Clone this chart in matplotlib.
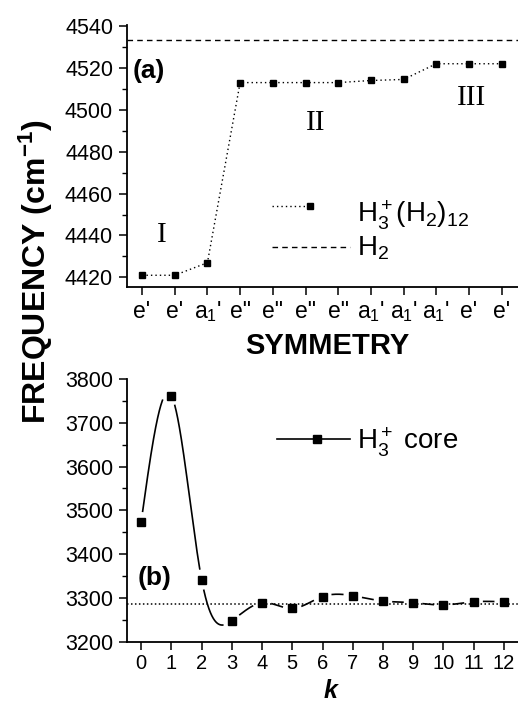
import matplotlib
matplotlib.use('Agg')
import matplotlib.pyplot as plt
from matplotlib.ticker import MultipleLocator
import numpy as np

plt.rcParams['font.family'] = ['Liberation Sans', 'DejaVu Sans']
plt.rcParams['mathtext.fontset'] = 'custom'
plt.rcParams['mathtext.rm'] = 'Liberation Sans'
plt.rcParams['mathtext.it'] = 'Liberation Sans:italic'
plt.rcParams['mathtext.bf'] = 'Liberation Sans:bold'

# ---- data, panel (a) ----
mode_index = list(range(1, 13))
symmetry = ["e'", "e'", "a$_1$'", 'e"', 'e"', 'e"', 'e"',
            "a$_1$'", "a$_1$'", "a$_1$'", "e'", "e'"]
cluster_freq = [4421, 4421, 4427, 4513, 4513, 4513, 4513,
                4514, 4514.5, 4522, 4522, 4522]
h2_freq = 4533.3

# ---- data, panel (b) ----
k_values = list(range(0, 13))
core_freq = [3474, 3762, 3342, 3248, 3289, 3276, 3303,
             3305, 3293, 3289, 3284, 3291, 3291]
core_ref = 3285


def natural_spline(x, y, xs):
  # plain natural cubic spline, numpy only
  x = np.asarray(x, float)
  y = np.asarray(y, float)
  n = len(x)
  h = np.diff(x)
  A = np.zeros((n, n))
  r = np.zeros(n)
  A[0, 0] = 1
  A[-1, -1] = 1
  for i in range(1, n - 1):
    A[i, i - 1] = h[i - 1]
    A[i, i] = 2 * (h[i - 1] + h[i])
    A[i, i + 1] = h[i]
    r[i] = 3 * ((y[i + 1] - y[i]) / h[i] - (y[i] - y[i - 1]) / h[i - 1])
  c = np.linalg.solve(A, r)
  seg = np.clip(np.searchsorted(x, xs) - 1, 0, n - 2)
  dx = xs - x[seg]
  b = (y[seg + 1] - y[seg]) / h[seg] - h[seg] * (2 * c[seg] + c[seg + 1]) / 3
  d = (c[seg + 1] - c[seg]) / (3 * h[seg])
  return y[seg] + b * dx + c[seg] * dx ** 2 + d * dx ** 3


W, H = 518, 704
fig = plt.figure(figsize=(W / 100, H / 100), dpi=100)
ax1 = fig.add_axes([127 / W, 1 - 287 / H, 391 / W, 262 / H])
ax2 = fig.add_axes([127 / W, 1 - 641.7 / H, 391 / W, 262.7 / H])

for ax in (ax1, ax2):
  ax.spines['top'].set_visible(False)
  ax.spines['right'].set_visible(False)
  ax.spines['left'].set_linewidth(1.3)
  ax.spines['bottom'].set_linewidth(1.3)
  ax.tick_params(which='major', direction='out', length=6, width=1.1)
  ax.tick_params(which='minor', direction='out', length=3.5, width=1.0)
  ax.tick_params(axis='y', labelsize=15.5, pad=4)

# ---------------- panel (a) ----------------
ax1.set_xlim(0.54, 12.5)
ax1.set_ylim(4415.4, 4540.5)
ax1.yaxis.set_major_locator(MultipleLocator(20))
ax1.yaxis.set_minor_locator(MultipleLocator(10))
ax1.set_xticks(mode_index)
ax1.set_xticklabels(symmetry)
ax1.tick_params(axis='x', labelsize=16.5, pad=3)

ax1.plot(mode_index, cluster_freq, color='black', linestyle=(0, (1, 2.2)),
         linewidth=1.0, marker='s', markersize=5, zorder=3)
ax1.axhline(h2_freq, color='black', linestyle=(0, (4, 3)), linewidth=1.0)

ax1.text(0.015, 0.824, '(a)', transform=ax1.transAxes, fontsize=19,
         fontweight='bold', va='center', ha='left')
for lab, xa, ya in [('I', 0.09, 0.172), ('II', 0.483, 0.599), ('III', 0.880, 0.695)]:
  ax1.text(xa, ya, lab, transform=ax1.transAxes, fontsize=21,
           family='Liberation Serif', ha='center', va='baseline')

# legend, drawn by hand (Origin style)
ax1.plot([0.371, 0.46], [0.309, 0.309], transform=ax1.transAxes, color='black',
         linestyle=(0, (1, 2.2)), linewidth=1.0)
ax1.plot([0.468], [0.309], transform=ax1.transAxes, color='black',
         marker='s', markersize=5, linestyle='none')
ax1.text(0.588, 0.248, r'H$_3^+$(H$_2$)$_{12}$', transform=ax1.transAxes,
         fontsize=20, va='baseline', ha='left')
ax1.plot([0.371, 0.57], [0.153, 0.153], transform=ax1.transAxes, color='black',
         linestyle=(0, (4, 3)), linewidth=1.0)
ax1.text(0.588, 0.122, r'H$_2$', transform=ax1.transAxes,
         fontsize=20, va='baseline', ha='left')

# ---------------- panel (b) ----------------
ax2.set_xlim(-0.47, 12.47)
ax2.set_ylim(3200, 3800)
ax2.yaxis.set_major_locator(MultipleLocator(100))
ax2.yaxis.set_minor_locator(MultipleLocator(50))
ax2.set_xticks(k_values)
ax2.tick_params(axis='x', labelsize=14.5, pad=3)

ax2.axhline(core_ref, color='black', linestyle=(0, (1, 1.6)), linewidth=1.1)

# smooth spline through the core frequencies, with small gaps at the symbols
xs = np.linspace(k_values[0], k_values[-1], 1500)
ys = natural_spline(k_values, core_freq, xs)
pix = ax2.transData.transform(np.column_stack([xs, ys]))
mk = ax2.transData.transform(np.column_stack([k_values, core_freq]))
dist = np.min(np.hypot(pix[:, None, 0] - mk[None, :, 0],
                       pix[:, None, 1] - mk[None, :, 1]), axis=1)
ys_gap = np.where(dist < 10, np.nan, ys)
ax2.plot(xs, ys_gap, color='black', linewidth=1.2)
ax2.plot(k_values, core_freq, color='black', marker='s', markersize=5.5,
         linestyle='none', zorder=3)

ax2.text(0.026, 0.242, '(b)', transform=ax2.transAxes, fontsize=19,
         fontweight='bold', va='center', ha='left')

ax2.plot([0.384, 0.57], [0.772, 0.772], transform=ax2.transAxes, color='black',
         linewidth=1.2)
ax2.plot([0.486], [0.772], transform=ax2.transAxes, color='black',
         marker='s', markersize=5.5, linestyle='none')
ax2.text(0.588, 0.73, r'H$_3^+$ core', transform=ax2.transAxes,
         fontsize=20, va='baseline', ha='left')

# ---------------- shared labels ----------------
fig.text(36 / W, 1 - 272 / H, r'FREQUENCY (cm$^{\mathbf{-1}}$)', rotation=90,
         fontsize=23, fontweight='bold', ha='center', va='center')
fig.text(327 / W, 1 - 346 / H, 'SYMMETRY', fontsize=21, fontweight='bold',
         ha='center', va='center')
fig.text(331 / W, 1 - 691 / H, 'k', fontsize=18, fontweight='bold',
         style='italic', ha='center', va='center')

fig.savefig('out.png', dpi=100)
